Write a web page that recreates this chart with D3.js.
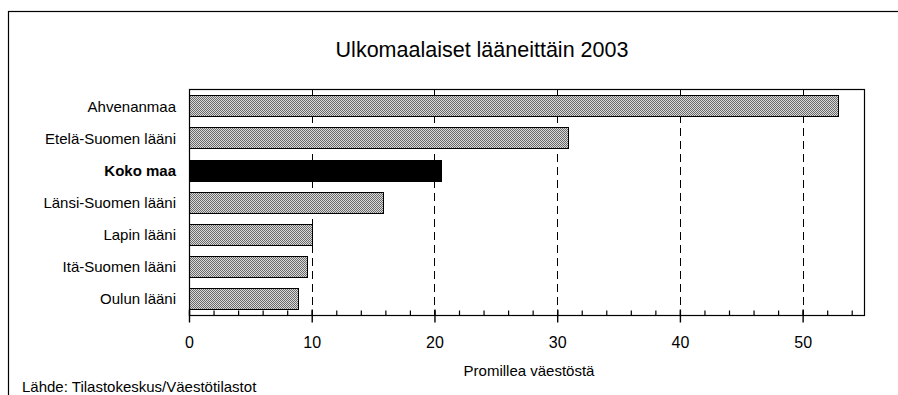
<!DOCTYPE html>
<html>
<head>
<meta charset="utf-8">
<script src="https://cdn.jsdelivr.net/npm/d3@7/dist/d3.min.js"></script>
<style>
  html, body { margin: 0; padding: 0; background: #fff; }
  svg { display: block; font-family: "Liberation Sans", Arial, sans-serif; }
</style>
</head>
<body>
<svg id="chart" width="898" height="395"></svg>
<script>
// Foreign citizens per province, per mille of population, 2003
const categories = ["Ahvenanmaa", "Etelä-Suomen lääni", "Koko maa", "Länsi-Suomen lääni",
                    "Lapin lääni", "Itä-Suomen lääni", "Oulun lääni"];
const values = [52.9, 30.9, 20.5, 15.8, 10.0, 9.6, 8.9];
const highlightCategory = "Koko maa";
const majorTicks = [0, 10, 20, 30, 40, 50];
const minorTicks = d3.range(0, 56, 2);
const titleText = "Ulkomaalaiset lääneittäin 2003";
const axisTitle = "Promillea väestöstä";
const sourceText = "Lähde: Tilastokeskus/Väestötilastot";

const svg = d3.select("#chart");
const plot = { left: 189, top: 89, right: 864, bottom: 315 };

const x = d3.scaleLinear().domain([0, 55]).range([plot.left, plot.right]);
const y = d3.scaleBand().domain(categories).range([plot.top, plot.bottom])
  .paddingInner(0.35).paddingOuter(0.2);

// stippled grey fill for the bars (pixel checkerboard)
const defs = svg.append("defs");
const pat = defs.append("pattern").attr("id", "stipple")
  .attr("patternUnits", "userSpaceOnUse").attr("width", 2).attr("height", 2);
pat.append("rect").attr("width", 2).attr("height", 2).attr("fill", "#dadada");
pat.append("rect").attr("x", 0).attr("y", 0).attr("width", 1).attr("height", 1).attr("fill", "#6a6a6a");
pat.append("rect").attr("x", 1).attr("y", 1).attr("width", 1).attr("height", 1).attr("fill", "#6a6a6a");

// outer frame
svg.append("rect").attr("x", 8.5).attr("y", 11.5).attr("width", 1000).attr("height", 500)
  .attr("fill", "none").attr("stroke", "#000").attr("stroke-width", 1.2);

// title
svg.append("text").attr("x", 482).attr("y", 57).attr("text-anchor", "middle")
  .attr("font-size", "21.5px").attr("fill", "#000").text(titleText);

// dashed grid lines
svg.append("g").selectAll("line").data(majorTicks.filter(d => d > 0)).join("line")
  .attr("x1", d => Math.round(x(d)) + 0.5).attr("x2", d => Math.round(x(d)) + 0.5)
  .attr("y1", plot.top).attr("y2", plot.bottom)
  .attr("stroke", "#000").attr("stroke-width", 1).attr("stroke-dasharray", "8,5");

// bars, snapped to whole pixels so the stipple stays even
svg.append("g").selectAll("rect").data(categories).join("rect")
  .attr("x", x(0) + 0.5)
  .attr("y", d => Math.round(y(d)) + 0.5)
  .attr("width", (d, i) => Math.round(x(values[i]) - x(0)))
  .attr("height", Math.round(y.bandwidth()))
  .attr("fill", d => d === highlightCategory ? "#000" : "url(#stipple)")
  .attr("stroke", "#000").attr("stroke-width", 1);

// plot frame
svg.append("rect").attr("x", plot.left + 0.5).attr("y", plot.top + 0.5)
  .attr("width", plot.right - plot.left).attr("height", plot.bottom - plot.top)
  .attr("fill", "none").attr("stroke", "#000").attr("stroke-width", 1.2);

// category labels
svg.append("g").selectAll("text").data(categories).join("text")
  .attr("x", 176)
  .attr("y", d => y(d) + y.bandwidth() / 2)
  .attr("dy", "0.38em")
  .attr("text-anchor", "end")
  .attr("font-size", "15px")
  .attr("font-weight", d => d === highlightCategory ? "bold" : "normal")
  .attr("fill", "#000")
  .text(d => d);

// minor ticks (inside the plot)
svg.append("g").attr("transform", `translate(0,${plot.bottom + 0.5})`)
  .call(d3.axisBottom(x).tickValues(minorTicks).tickSize(-5).tickFormat(""))
  .call(g => g.select(".domain").remove())
  .call(g => g.selectAll("line").attr("stroke", "#000").attr("stroke-width", 1.2));

// major ticks crossing the axis, with labels
const axis = svg.append("g").attr("transform", `translate(0,${plot.bottom + 0.5})`)
  .call(d3.axisBottom(x).tickValues(majorTicks).tickSize(7).tickPadding(14).tickFormat(d3.format("d")))
  .call(g => g.select(".domain").remove());
axis.selectAll("line").attr("y1", -6).attr("stroke", "#000").attr("stroke-width", 1.4);
axis.selectAll("text").attr("font-size", "16px").attr("font-family", "Liberation Sans, Arial, sans-serif")
  .attr("fill", "#000");

// axis title
svg.append("text").attr("x", 529).attr("y", 376).attr("text-anchor", "middle")
  .attr("font-size", "15px").attr("fill", "#000").text(axisTitle);

// source note
svg.append("text").attr("x", 22).attr("y", 392)
  .attr("font-size", "15px").attr("fill", "#000").text(sourceText);
</script>
</body>
</html>
